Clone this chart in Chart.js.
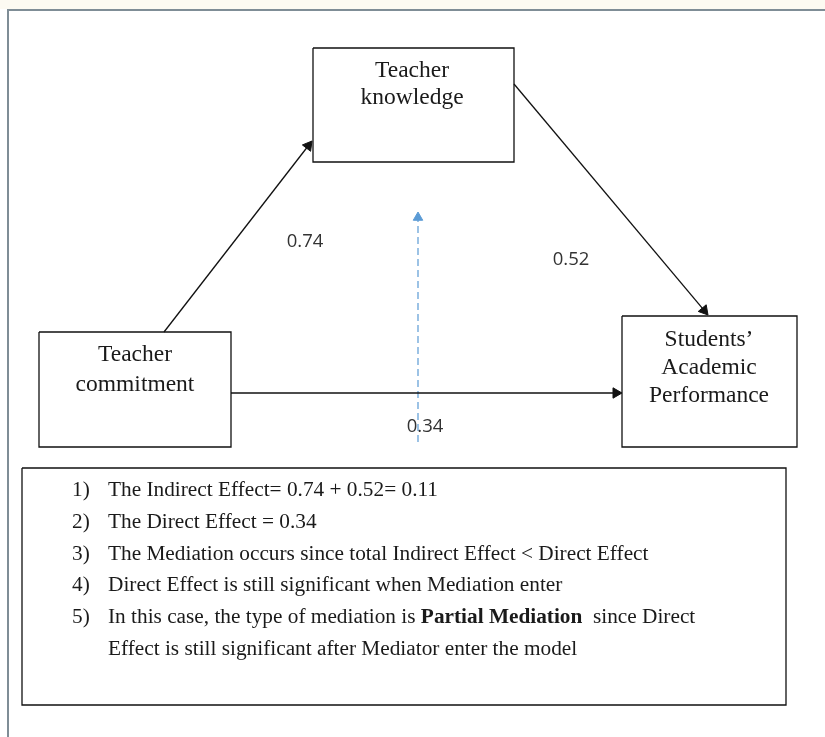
<!DOCTYPE html>
<html>
<head>
<meta charset="utf-8">
<script src="https://cdn.jsdelivr.net/npm/chart.js@4.4.0/dist/chart.umd.min.js"></script>
<style>
  html, body { margin: 0; padding: 0; background: #ffffff; }
  #wrap { width: 825px; height: 737px; }
</style>
</head>
<body>
<div id="wrap"><canvas id="diagram" width="825" height="737"></canvas></div>
<script>
// Datos del modelo de mediación
const nodeNames = [
  ['Teacher', 'knowledge'],
  ['Teacher', 'commitment'],
  ['Students\u2019', 'Academic', 'Performance']
];
const pathLabels = ['0.74', '0.52', '0.34'];   // a, b, c'
const noteNumbers = ['1)', '2)', '3)', '4)', '5)', ''];
const noteLines = [
  'The Indirect Effect= 0.74 + 0.52= 0.11',
  'The Direct Effect = 0.34',
  'The Mediation occurs since total Indirect Effect < Direct Effect',
  'Direct Effect is still significant when Mediation enter',
  'In this case, the type of mediation is Partial Mediation  since Direct',
  'Effect is still significant after Mediator enter the model'
];
const boldPhrase = 'Partial Mediation';

// Disposición (coordenadas del lienzo, 1 unidad = 1 px)
const layout = {
  boxes: [
    { x0: 313, y0: 48, x1: 514, y1: 162, textX: 412, baselines: [77, 104] },
    { x0: 39, y0: 332, x1: 231, y1: 447, textX: 135, baselines: [361, 391] },
    { x0: 622, y0: 316, x1: 797, y1: 447, textX: 709, baselines: [346, 374, 402] }
  ],
  arrows: [
    { from: [164, 332], to: [312, 141] },
    { from: [514, 84], to: [708, 315] },
    { from: [231, 393], to: [622, 393] }
  ],
  dashed: { from: [418, 442], to: [418, 212] },
  labels: [[305, 247], [571, 265], [425, 432]],
  noteBox: { x0: 22, y0: 468, x1: 786, y1: 705 },
  noteNumX: 72,
  noteTextX: 108,
  noteBaseline0: 496,
  noteStep: 31.8,
  frame: [[8, 737], [8, 10], [825, 10]]
};

const ink = '#111111';
const frameColor = '#7f8d96';
const dashBlue = '#5b9bd5';

function boxPoints(b) {
  return [
    { x: b.x0, y: b.y0 }, { x: b.x1, y: b.y0 },
    { x: b.x1, y: b.y1 }, { x: b.x0, y: b.y1 }, { x: b.x0, y: b.y0 }
  ];
}

// Flecha: línea hasta el centro de la cabeza triangular, girada según la dirección
function arrowDataset(from, to, color, r, dash, width) {
  const dx = to[0] - from[0];
  const dy = to[1] - from[1];
  const len = Math.hypot(dx, dy);
  const ux = dx / len, uy = dy / len;
  const cx = to[0] - ux * r;
  const cy = to[1] - uy * r;
  const rot = Math.atan2(dx, -dy) * 180 / Math.PI;
  return {
    type: 'line',
    data: [{ x: from[0], y: from[1] }, { x: cx, y: cy }],
    borderColor: color,
    borderWidth: width,
    borderDash: dash,
    pointStyle: 'triangle',
    pointRadius: [0, r],
    pointRotation: [0, rot],
    pointBackgroundColor: color,
    pointBorderColor: color,
    pointBorderWidth: 1,
    clip: false,
    tension: 0,
    fill: false
  };
}

const datasets = [];

// Marco exterior
datasets.push({
  type: 'line',
  data: layout.frame.map(p => ({ x: p[0], y: p[1] })),
  borderColor: frameColor,
  borderWidth: 2,
  pointRadius: 0,
  clip: false,
  fill: false
});

layout.boxes.forEach(b => {
  datasets.push({
    type: 'line',
    data: boxPoints(b),
    borderColor: ink,
    borderWidth: 1.3,
    pointRadius: 0,
    clip: false,
    fill: false
  });
});

datasets.push({
  type: 'line',
  data: boxPoints(layout.noteBox),
  borderColor: ink,
  borderWidth: 1.3,
  pointRadius: 0,
  clip: false,
  fill: false
});

layout.arrows.forEach(a => {
  datasets.push(arrowDataset(a.from, a.to, ink, 6, [], 1.3));
});
datasets.push(arrowDataset(layout.dashed.from, layout.dashed.to, dashBlue, 5.5, [7, 4], 1.2));

// Plugin para los textos y la franja superior
const textPlugin = {
  id: 'textos',
  beforeDatasetsDraw(chart) {
    const { ctx, scales } = chart;
    ctx.save();
    ctx.fillStyle = '#fcfaf2';
    ctx.fillRect(0, 0, chart.width, scales.y.getPixelForValue(9));
    ctx.restore();
  },
  afterDatasetsDraw(chart) {
    const { ctx, scales } = chart;
    const px = v => scales.x.getPixelForValue(v);
    const py = v => scales.y.getPixelForValue(v);
    ctx.save();
    ctx.fillStyle = '#1a1a1a';
    ctx.textBaseline = 'alphabetic';

    // Nombres de las variables
    ctx.font = '23.5px "Liberation Serif", "Times New Roman", serif';
    ctx.textAlign = 'center';
    nodeNames.forEach((lines, i) => {
      const b = layout.boxes[i];
      lines.forEach((t, j) => ctx.fillText(t, px(b.textX), py(b.baselines[j])));
    });

    // Coeficientes
    ctx.font = '18.5px "Open Sans", "Noto Sans", sans-serif';
    ctx.fillStyle = '#333333';
    pathLabels.forEach((t, i) => {
      const p = layout.labels[i];
      ctx.fillText(t, px(p[0]), py(p[1]));
    });

    // Notas
    ctx.fillStyle = '#1a1a1a';
    ctx.textAlign = 'left';
    const regular = '21.3px "Liberation Serif", "Times New Roman", serif';
    const bold = 'bold 21.3px "Liberation Serif", "Times New Roman", serif';
    noteLines.forEach((line, i) => {
      const y = py(layout.noteBaseline0 + i * layout.noteStep);
      ctx.font = regular;
      if (noteNumbers[i]) ctx.fillText(noteNumbers[i], px(layout.noteNumX), y);
      let x = px(layout.noteTextX);
      const k = line.indexOf(boldPhrase);
      if (k < 0) {
        ctx.fillText(line, x, y);
      } else {
        const parts = [line.slice(0, k), boldPhrase, line.slice(k + boldPhrase.length)];
        parts.forEach((s, j) => {
          ctx.font = j === 1 ? bold : regular;
          ctx.fillText(s, x, y);
          x += ctx.measureText(s).width;
        });
      }
    });
    ctx.restore();
  }
};

const grafica = new Chart(document.getElementById('diagram').getContext('2d'), {
  type: 'scatter',
  data: { datasets },
  options: {
    responsive: false,
    animation: false,
    events: [],
    layout: { padding: 0, autoPadding: false },
    scales: {
      x: { type: 'linear', min: 0, max: 825, display: false },
      y: { type: 'linear', min: 0, max: 737, reverse: true, display: false }
    },
    plugins: {
      legend: { display: false },
      tooltip: { enabled: false }
    }
  },
  plugins: [textPlugin]
});
</script>
</body>
</html>
